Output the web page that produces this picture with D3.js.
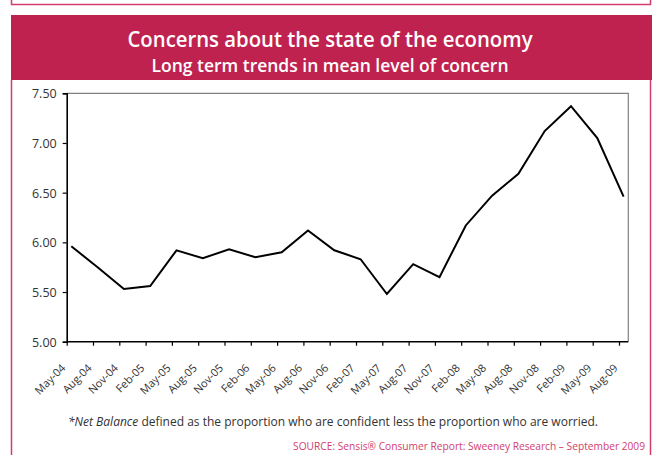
<!DOCTYPE html>
<html>
<head>
<meta charset="utf-8">
<script src="https://cdn.jsdelivr.net/npm/d3@7"></script>
<style>
  html, body { margin: 0; padding: 0; background: #fff; }
  svg { display: block; }
  .hum { font-family: "Open Sans", "Noto Sans", sans-serif; }
</style>
</head>
<body>
<svg id="chart" width="653" height="455"></svg>
<script>
// Quarterly mean level of concern about the economy
const categories = ["May-04","Aug-04","Nov-04","Feb-05","May-05","Aug-05","Nov-05","Feb-06",
  "May-06","Aug-06","Nov-06","Feb-07","May-07","Aug-07","Nov-07","Feb-08","May-08","Aug-08",
  "Nov-08","Feb-09","May-09","Aug-09"];
const concern = [5.96, 5.75, 5.53, 5.56, 5.92, 5.84, 5.93, 5.85, 5.90, 6.12, 5.92, 5.83,
  5.48, 5.78, 5.65, 6.17, 6.47, 6.69, 7.12, 7.37, 7.05, 6.46];
const yTicks = [5.00, 5.50, 6.00, 6.50, 7.00, 7.50];

const titleText = "Concerns about the state of the economy";
const subtitleText = "Long term trends in mean level of concern";
const sourceText = "SOURCE: Sensis\u00ae Consumer Report: Sweeney Research \u2013 September 2009";

const crimson = "#c0224f";
const pink = "#d23d6c";

const svg = d3.select("#chart");

// panel frame (bottom edge of the panel above, and this panel's sides)
svg.append("path")
  .attr("d", "M11.5,0 V4.5 H650.5 V0")
  .attr("fill", "none").attr("stroke", pink).attr("stroke-width", 1.5);
svg.append("path")
  .attr("d", "M11.5,80 V455 M650.5,80 V455")
  .attr("fill", "none").attr("stroke", pink).attr("stroke-width", 1.5);

// header band
svg.append("rect").attr("x", 11).attr("y", 15).attr("width", 641).attr("height", 65).attr("fill", crimson);
svg.append("text").attr("class", "hum")
  .attr("x", 330).attr("y", 47).attr("text-anchor", "middle")
  .attr("fill", "#fff").attr("font-size", 22).attr("font-weight", 600)
  .attr("textLength", 405).attr("lengthAdjust", "spacingAndGlyphs")
  .text(titleText);
svg.append("text").attr("class", "hum")
  .attr("x", 330).attr("y", 72).attr("text-anchor", "middle")
  .attr("fill", "#fff").attr("font-size", 18.5).attr("font-weight", 600)
  .attr("textLength", 357).attr("lengthAdjust", "spacingAndGlyphs")
  .text(subtitleText);

// plot geometry
const plotL = 66.7, plotR = 628.3, plotT = 93.3, plotB = 341.7;
const step = 26.3;
const x = d3.scalePoint().domain(categories).range([71.3, 71.3 + step * (categories.length - 1)]);
const y = d3.scaleLinear().domain([5, 7.5]).range([plotB, plotT]);

// plot frame: grey top/right
svg.append("path")
  .attr("d", `M${plotL},${plotT} H${plotR} V${plotB}`)
  .attr("fill", "none").attr("stroke", "#808080").attr("stroke-width", 1.2);

// y axis
const yAxis = svg.append("g").attr("transform", `translate(${plotL},0)`)
  .call(d3.axisLeft(y).tickValues(yTicks).tickFormat(d3.format(".2f")).tickSizeOuter(0).tickSize(4));
yAxis.select(".domain").attr("stroke", "#000").attr("stroke-width", 1.6);
yAxis.selectAll(".tick line").attr("stroke", "#000").attr("stroke-width", 1.2);
yAxis.selectAll(".tick text")
  .attr("class", "hum").attr("font-size", 12.5).attr("fill", "#333")
  .attr("x", -10).attr("dy", "0.36em");

// x axis: ticks sit just left of each data point
const xAxis = svg.append("g").attr("transform", `translate(${-4.6},${plotB})`)
  .call(d3.axisBottom(x).tickSizeOuter(0).tickSize(4));
xAxis.select(".domain").remove();
xAxis.selectAll(".tick line").attr("stroke", "#000").attr("stroke-width", 1.2);
xAxis.selectAll(".tick text")
  .attr("class", "hum").attr("font-size", 11).attr("fill", "#333")
  .attr("text-anchor", "end")
  .attr("transform", "translate(-1,27) rotate(-45)")
  .attr("x", 0).attr("y", 0).attr("dy", 0);
svg.append("line")
  .attr("x1", plotL).attr("x2", plotR).attr("y1", plotB).attr("y2", plotB)
  .attr("stroke", "#000").attr("stroke-width", 1.6);

// series line
const line = d3.line().x((d, i) => x(categories[i])).y(d => y(d));
svg.append("path").datum(concern)
  .attr("d", line)
  .attr("fill", "none").attr("stroke", "#000").attr("stroke-width", 2)
  .attr("stroke-linejoin", "miter");

// footnote
const note = svg.append("text").attr("class", "hum")
  .attr("x", 333).attr("y", 426).attr("text-anchor", "middle")
  .attr("font-size", 12.5).attr("fill", "#333")
  .attr("textLength", 530).attr("lengthAdjust", "spacingAndGlyphs");
note.append("tspan").attr("font-style", "italic").text("*Net Balance");
note.append("tspan").text(" defined as the proportion who are confident less the proportion who are worried.");

// source line
svg.append("text").attr("class", "hum")
  .attr("x", 645).attr("y", 450).attr("text-anchor", "end")
  .attr("font-size", 10.2).attr("fill", pink)
  .text(sourceText);
</script>
</body>
</html>
